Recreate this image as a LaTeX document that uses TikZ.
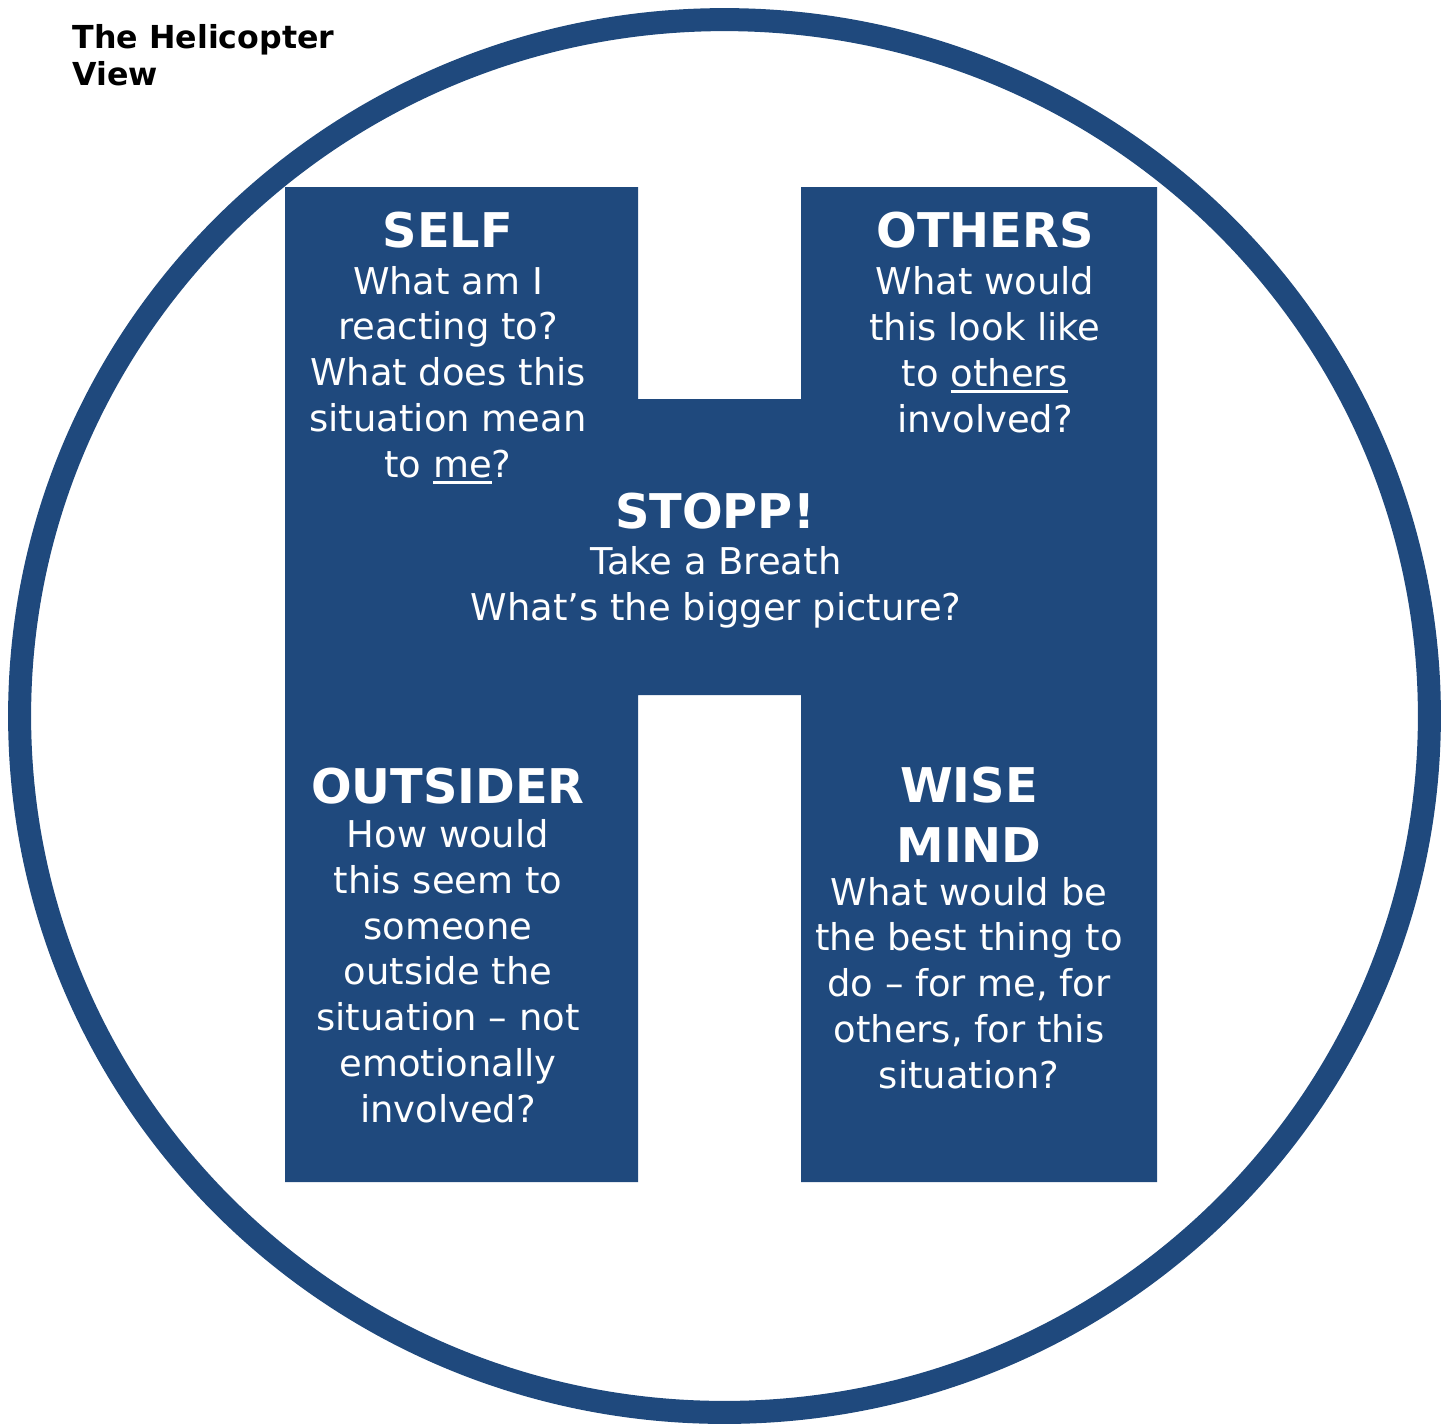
\documentclass[tikz,border=0pt]{standalone}
\usepackage{fontspec}
\setmainfont{DejaVu Sans}
\definecolor{hblue}{HTML}{1F497D}
% underline like the word processor does it
\newcommand{\undl}[1]{\setbox0=\hbox{#1}\rlap{\rule[-1.9pt]{\wd0}{0.75pt}}\box0}
\tikzset{
  head/.style={text=white,inner sep=0pt,align=center,font=\bfseries\fontsize{13.6pt}{16.8pt}\selectfont},
  body/.style={text=white,inner sep=0pt,align=center,font=\fontsize{10.5pt}{13pt}\selectfont}
}
\begin{document}
\begin{tikzpicture}[x=0.01cm,y=-0.01cm]
        \useasboundingbox (0,0) rectangle (1451,1423);
        %titolo (base = ultima riga)
        \node[anchor=base west,inner sep=0pt,align=left,font=\bfseries\fontsize{9pt}{10.5pt}\selectfont] (title) at (72,85) {The Helicopter\\View};
        %anello
        \draw[hblue,line width=0.23cm](724.5,716) ellipse [x radius=7.045cm, y radius=6.96cm];
        %la H
        \fill[hblue](285,187) -| (638,399) -| (801,187) -| (1157,1182) -| (801,695) -| (638,1182) -| (285,187) -- cycle;
        %in alto a sinistra
        \node[head,anchor=base] (self) at (448,247) {SELF};
        \node[body,anchor=base] (selftxt) at (448,477) {What am I\\reacting to?\\What does this\\situation mean\\to \undl{me}?};
        %in alto a destra
        \node[head,anchor=base] (others) at (985,247) {OTHERS};
        \node[body,anchor=base] (otherstxt) at (985,432) {What would\\this look like\\to \undl{others}\\involved?};
        %centro
        \node[head,anchor=base] (stopp) at (715,528) {STOPP!};
        \node[body,anchor=base] (stopptxt) at (716,620) {Take a Breath\\What’s the bigger picture?};
        %in basso a sinistra
        \node[head,anchor=base] (outsider) at (448,803) {OUTSIDER};
        \node[body,anchor=base] (outsidertxt) at (448,1122) {How would\\this seem to\\someone\\outside the\\situation – not\\emotionally\\involved?};
        %in basso a destra
        \node[head,anchor=base] (wise) at (969,862) {WISE\\MIND};
        \node[body,anchor=base] (wisetxt) at (969,1088) {What would be\\the best thing to\\do – for me, for\\others, for this\\situation?};
    \end{tikzpicture}
\end{document}
